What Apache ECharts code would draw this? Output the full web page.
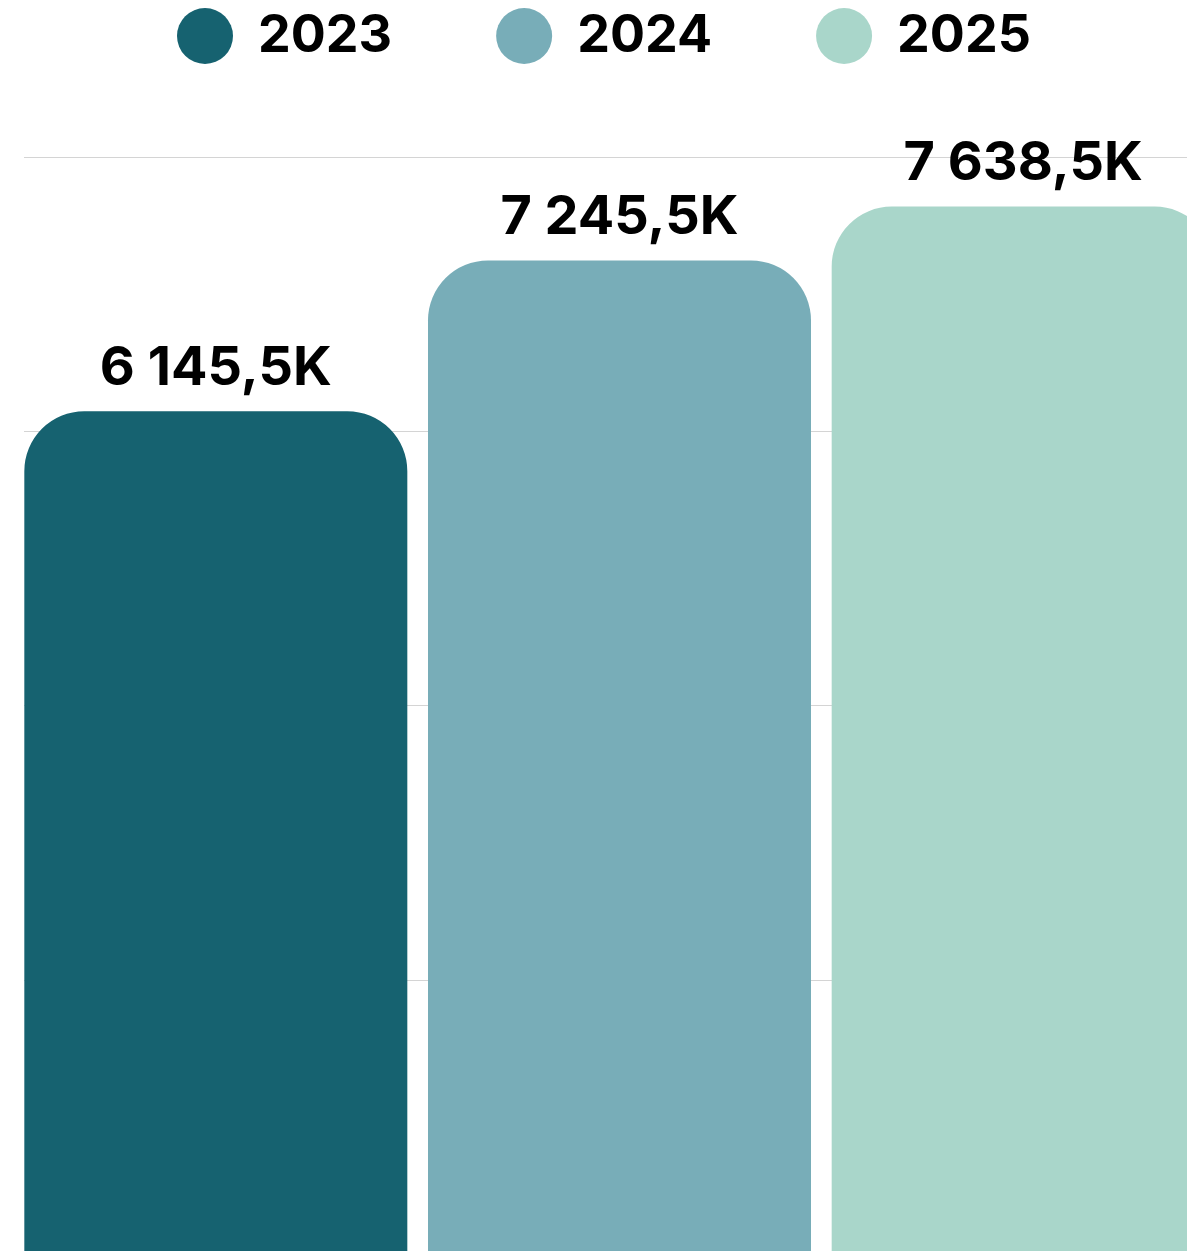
<!DOCTYPE html>
<html>
<head>
<meta charset="utf-8">
<script src="https://cdn.jsdelivr.net/npm/echarts@6/dist/echarts.min.js"></script>
<style>
  html, body { margin: 0; padding: 0; background: #fff; }
  #chart { width: 1187px; height: 1251px; }
</style>
</head>
<body>
<div id="chart"></div>
<script>
const years = ['2023', '2024', '2025'];
const values = [6145.5, 7245.5, 7638.5];
const colors = ['#166270', '#78ADB8', '#A9D6CA'];
const yTicks = [0, 2000, 4000, 6000, 8000];

const fmt = (v) => {
    const parts = v.toFixed(1).split('.');
    const int = parts[0].replace(/\B(?=(\d{3})+(?!\d))/g, ' ');
    return int + ',' + parts[1] + 'K';
};

const chart = echarts.init(document.getElementById('chart'));
chart.setOption({
    animation: false,
    legend: {
        top: 3,
        left: 172,
        itemWidth: 56,
        itemHeight: 56,
        itemGap: 104,
        icon: 'circle',
        textStyle: {
            fontFamily: 'Inter',
            fontWeight: 'bold',
            fontSize: 52,
            color: '#000',
            padding: [12, 0, 0, 20],
        },
        data: years,
    },
    grid: {
        left: 24,
        width: 1191,
        top: 157,
        height: 1097,
        outerBoundsMode: 'none',
    },
    xAxis: {
        type: 'category',
        data: [''],
        show: false,
    },
    yAxis: {
        type: 'value',
        min: yTicks[0],
        max: yTicks[yTicks.length - 1],
        interval: 2000,
        axisLabel: { show: false },
        axisLine: { show: false },
        axisTick: { show: false },
        splitLine: { lineStyle: { color: '#d4d4d4', width: 1 } },
    },
    series: years.map((y, i) => ({
        name: y,
        type: 'bar',
        barWidth: 383,
        barGap: '5.4%',
        data: [values[i]],
        itemStyle: {
            color: colors[i],
            borderRadius: [60, 60, 0, 0],
        },
        label: {
            show: true,
            position: 'top',
            distance: 16,
            fontFamily: 'Inter',
            fontWeight: 'bold',
            fontSize: 54,
            color: '#000',
            formatter: (p) => fmt(p.value),
        },
    })),
});
</script>
</body>
</html>
